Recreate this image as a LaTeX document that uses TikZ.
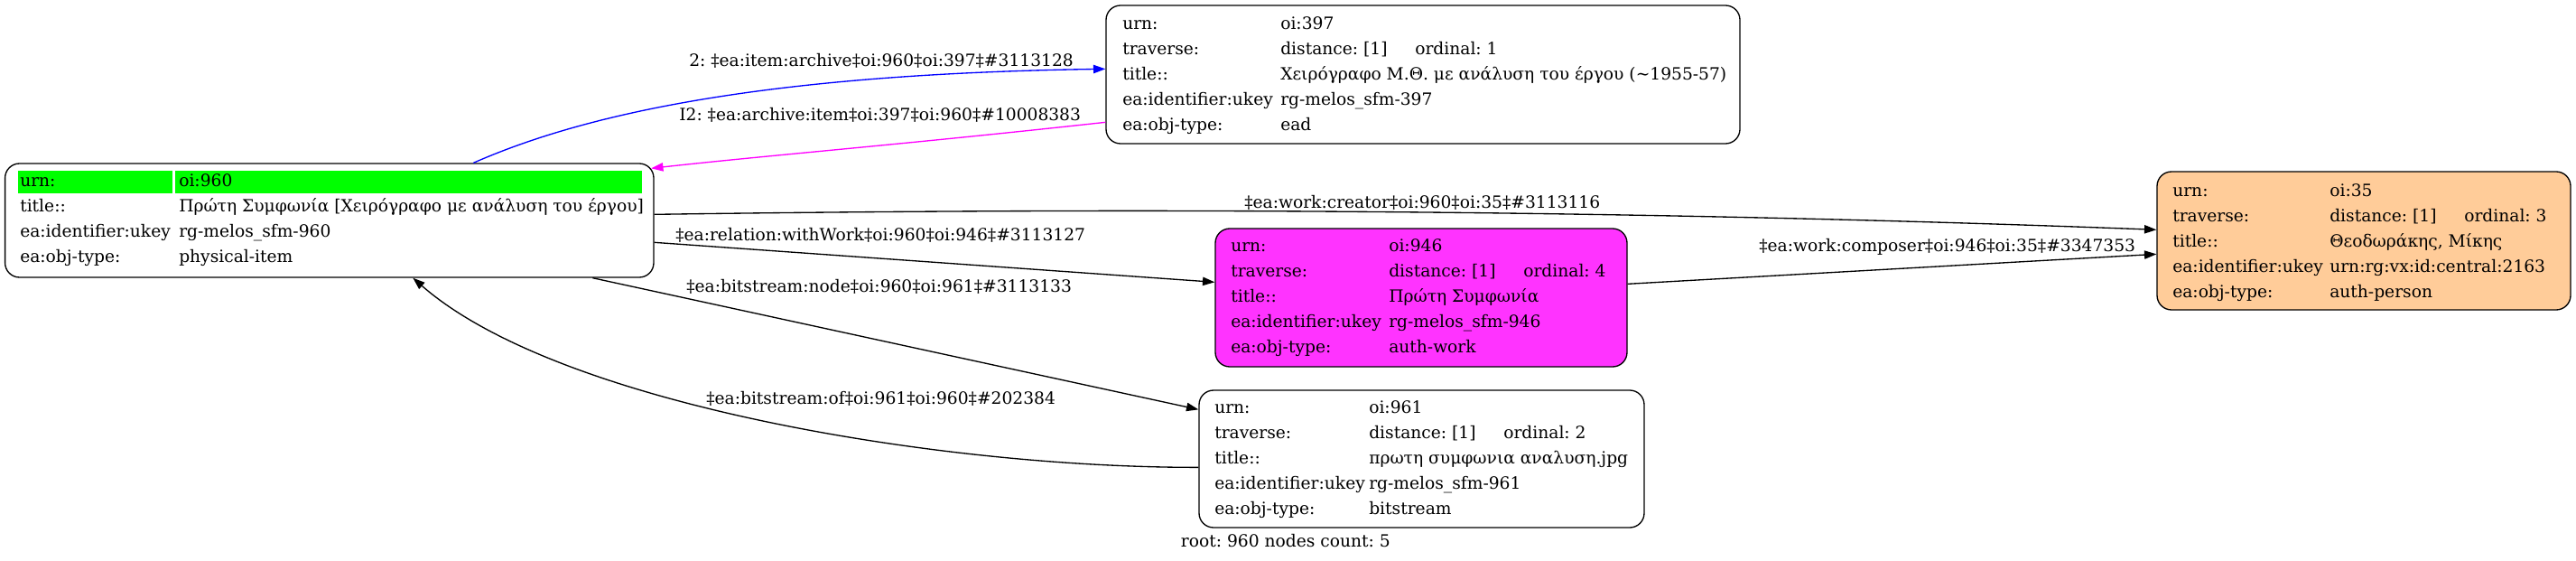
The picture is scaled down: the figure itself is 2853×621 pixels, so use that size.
\documentclass[tikz,border=0pt]{standalone}
\usepackage{fontspec}
\setmainfont{DejaVu Serif}
\usetikzlibrary{arrows.meta,fit,calc}
\definecolor{mag}{RGB}{255,51,255}
\definecolor{peach}{RGB}{255,204,153}
\definecolor{lime}{RGB}{0,255,0}
\definecolor{edgeblue}{RGB}{0,0,255}
\definecolor{edgemag}{RGB}{255,0,255}
\newcommand\kvrow[6]{\node[txt] (#1k) at (#2,#4) {#5}; \node[txt] (#1v) at (#3,#4) {#6};}
\frenchspacing
\begin{document}
\begin{tikzpicture}[x=0.75pt,y=-0.75pt,
  font=\fontsize{14pt}{17pt}\selectfont\frenchspacing,
  box/.style={draw, line width=1pt, rounded corners=12pt, inner sep=0pt},
  cell/.style={fill=lime, draw=none, inner sep=0pt},
  txt/.style={anchor=base west, inner sep=0pt},
  lab/.style={anchor=base west, inner sep=0pt},
  conn/.style={line width=1pt, -{Triangle[length=10pt,width=7pt]}}]
\useasboundingbox (0,0) rectangle (2853,621);
% boxes
\node[box, fit={(5.6,181) (724,307)}] (n960) {};
\node[box, fit={(1225,6) (1927,159)}] (n397) {};
\node[box, fill=mag, fit={(1346,253) (1802,406)}] (n946) {};
\node[box, fit={(1328,432) (1821,584)}] (n961) {};
\node[box, fill=peach, fit={(2389,190) (2847,343)}] (n35) {};
% green header cells of the root node
\node[cell, fit={(19.5,189.3) (191,214.3)}] (g1) {};
\node[cell, fit={(193.7,189.3) (711,214.3)}] (g2) {};
% node 960
\kvrow{a1}{22}{198}{206.7}{urn:}{oi:960}
\kvrow{a2}{22}{198}{234.7}{title::}{Πρώτη Συμφωνία [Χειρόγραφο με ανάλυση του έργου]}
\kvrow{a3}{22}{198}{262.7}{ea:identifier:ukey}{rg-melos\_sfm-960}
\kvrow{a4}{22}{198}{290.7}{ea:obj-type:}{physical-item}
% node 397
\kvrow{b1}{1243}{1418}{32}{urn:}{oi:397}
\kvrow{b2}{1243}{1418}{60}{traverse:}{distance: [1]}
\node[txt] (b2o) at (1567,60) {ordinal: 1};
\kvrow{b3}{1243}{1418}{88}{title::}{Χειρόγραφο Μ.Θ. με ανάλυση του έργου (\textasciitilde 1955-57)}
\kvrow{b4}{1243}{1418}{116}{ea:identifier:ukey}{rg-melos\_sfm-397}
\kvrow{b5}{1243}{1418}{144}{ea:obj-type:}{ead}
% node 946
\kvrow{c1}{1363}{1538}{278}{urn:}{oi:946}
\kvrow{c2}{1363}{1538}{306}{traverse:}{distance: [1]}
\node[txt] (c2o) at (1687,306) {ordinal: 4};
\kvrow{c3}{1363}{1538}{334}{title::}{Πρώτη Συμφωνία}
\kvrow{c4}{1363}{1538}{362}{ea:identifier:ukey}{rg-melos\_sfm-946}
\kvrow{c5}{1363}{1538}{390}{ea:obj-type:}{auth-work}
% node 961
\kvrow{d1}{1345}{1516}{457}{urn:}{oi:961}
\kvrow{d2}{1345}{1516}{485}{traverse:}{distance: [1]}
\node[txt] (d2o) at (1665,485) {ordinal: 2};
\kvrow{d3}{1345}{1516}{513}{title::}{πρωτη συμφωνια αναλυση.jpg}
\kvrow{d4}{1345}{1516}{541}{ea:identifier:ukey}{rg-melos\_sfm-961}
\kvrow{d5}{1345}{1516}{569}{ea:obj-type:}{bitstream}
% node 35
\kvrow{e1}{2406}{2580}{217}{urn:}{oi:35}
\kvrow{e2}{2406}{2580}{245}{traverse:}{distance: [1]}
\node[txt] (e2o) at (2729,245) {ordinal: 3};
\kvrow{e3}{2406}{2580}{273}{title::}{Θεοδωράκης, Μίκης}
\kvrow{e4}{2406}{2580}{301}{ea:identifier:ukey}{urn:rg:vx:id:central:2163}
\kvrow{e5}{2406}{2580}{329}{ea:obj-type:}{auth-person}
% connectors
\draw[conn, edgeblue] ($(n960.north west)+(519.4,0)$) .. controls (650,125) and (850,82) .. ($(n397.north west)+(0,71)$);
\draw[conn, edgemag] ($(n397.north west)+(0,130)$) .. controls (1000,160) and (850,172) .. ($(n960.north east)+(-3.5,6)$);
\draw[conn] ($(n960.north east)+(0,57)$) .. controls (1100,232) and (1700,228) .. ($(n35.north west)+(0,65)$);
\draw[conn] ($(n960.north east)+(0,88)$) -- ($(n946.north west)+(0,60)$);
\draw[conn] ($(n946.north east)+(0,62)$) -- ($(n35.north west)+(0,92)$);
\draw[conn] ($(n960.south west)+(651.4,0)$) -- ($(n961.north west)+(0,22)$);
\draw[conn] ($(n961.north west)+(0,86)$) .. controls (1050,518) and (620,450) .. ($(n960.south west)+(452.4,0)$);
% connector labels
\node[lab] (l1) at (763,73) {2: ‡ea:item:archive‡oi:960‡oi:397‡\#3113128};
\node[lab] (l2) at (752,133) {I2: ‡ea:archive:item‡oi:397‡oi:960‡\#10008383};
\node[lab] (l3) at (1378,230) {‡ea:work:creator‡oi:960‡oi:35‡\#3113116};
\node[lab] (l4) at (748,266) {‡ea:relation:withWork‡oi:960‡oi:946‡\#3113127};
\node[lab] (l5) at (1948,278) {‡ea:work:composer‡oi:946‡oi:35‡\#3347353};
\node[lab] (l6) at (760,323) {‡ea:bitstream:node‡oi:960‡oi:961‡\#3113133};
\node[lab] (l7) at (782,447) {‡ea:bitstream:of‡oi:961‡oi:960‡\#202384};
% footer
\node[anchor=base east, inner sep=0pt] (foot) at (1540,605) {root: 960 nodes count: 5};
\end{tikzpicture}
\end{document}
